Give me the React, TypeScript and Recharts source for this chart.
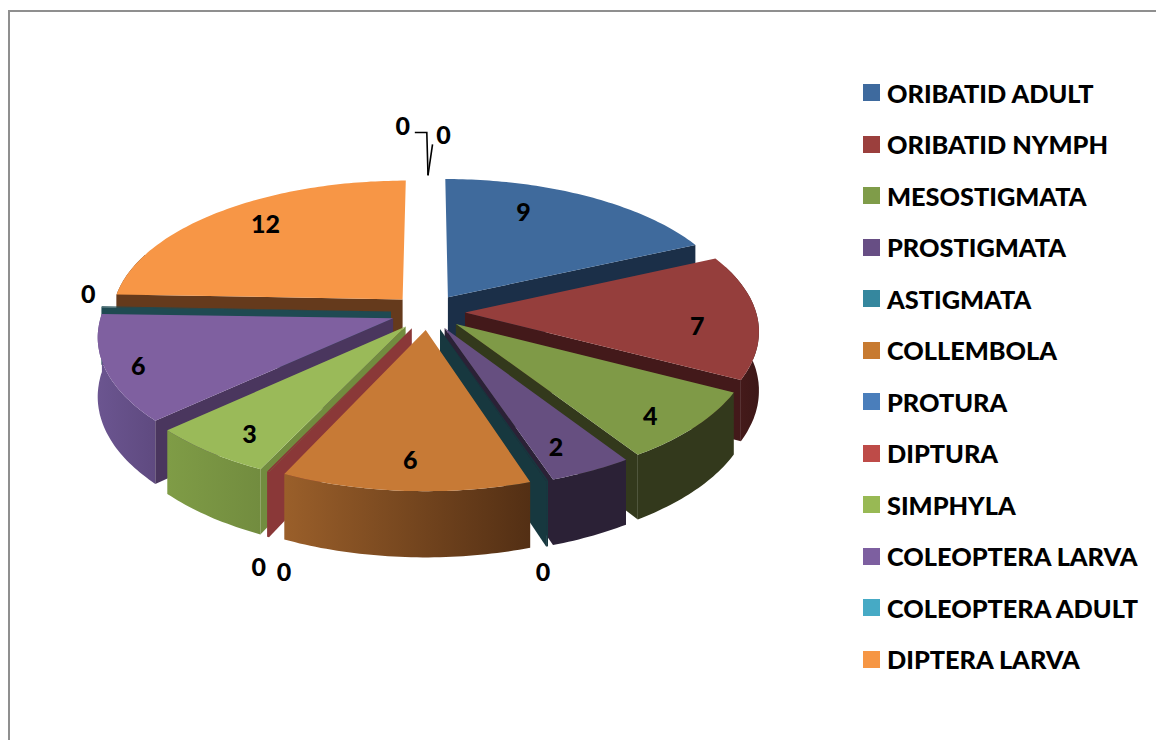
import { PieChart, Pie, Legend } from "recharts";

const categories = [
  "ORIBATID ADULT", "ORIBATID NYMPH", "MESOSTIGMATA", "PROSTIGMATA", "ASTIGMATA", "COLLEMBOLA",
  "PROTURA", "DIPTURA", "SIMPHYLA", "COLEOPTERA LARVA", "COLEOPTERA ADULT", "DIPTERA LARVA",
  "", "",
];
// some zero slices still show a thin cut face in the picture, so they get a sliver
const values = [9, 7, 4, 2, 0.05, 6, 0, 0.05, 3, 6, 0.05, 12, 0, 0];

const legendColors = [
  "#3e6a9e", "#9b3f3d", "#7f9c49", "#674e84", "#35879e", "#c77a30",
  "#4a7ebb", "#be4b48", "#98b954", "#7d5fa0", "#46aac5", "#f69644", "#fff", "#fff",
];
const topColors = [
  "#3f6a9c", "#953e3c", "#7f9a47", "#664f80", "#17383f", "#c77a36",
  "#4a7ebb", "#8a3838", "#9aba59", "#7f60a0", "#1f4a52", "#f79646", "#fff", "#fff",
];
const faceColors = [
  "#1b2f48", "#43191a", "#33391c", "#2b2136", "#17383f", "#532f14",
  "#2a4a70", "#8a3838", "#728c3f", "#4a365e", "#1f4a52", "#653a1c", "#fff", "#fff",
];
const wallFrom = [
  "#1b2f48", "#4a1c1c", "#33391c", "#2b2136", "#17383f", "#9a5f2a",
  "#2a4a70", "#8a3838", "#7f9c46", "#6b5590", "#1f4a52", "#653a1c", "#fff", "#fff",
];
const wallTo = [
  "#1b2f48", "#3d1717", "#33391c", "#2b2136", "#17383f", "#532f14",
  "#2a4a70", "#8a3838", "#728c3f", "#5f4a80", "#1f4a52", "#653a1c", "#fff", "#fff",
];

// where each number sits on the pie: clockwise angle from north, fraction of radius
const labelAngles = [24.3, 95.8, 134, 155.4, 168, 183.3, 197.7, 194.9, 215.2, 249, 276.7, 318.9, 356.3, 2.4];
const labelRadii = [0.874, 0.907, 0.965, 0.94, 1.57, 0.93, 1.585, 1.59, 0.955, 1.006, 1.18, 0.918, 1.68, 1.57];

// back to front, so nearer walls cover the ones behind
const wallOrder = [12, 13, 11, 10, 9, 8, 6, 7, 0, 1, 2, 3, 4, 5];

const CX = 428;
const CY = 312;
const RADIUS = 291;
const LABEL_RADIUS = 295;
const EXPLODE = 37;
const TILT = 0.479;
const PERSPECTIVE = 0.125;
const DEPTH = 58;

const rows = categories.map((name, i) => ({ name, value: values[i], fill: topColors[i] }));

const rad = (d: number) => (d * Math.PI) / 180;

// pie plane (u right, v toward viewer) to the screen
function project(u: number, v: number, down = 0) {
  const s = 1 + (PERSPECTIVE * v) / RADIUS;
  return [CX + u * s, CY + TILT * v * s + down * s];
}

function rimPoint(theta: number, mid: number, r: number, down = 0) {
  const u = r * Math.sin(rad(theta)) + EXPLODE * Math.sin(rad(mid));
  const v = -r * Math.cos(rad(theta)) - EXPLODE * Math.cos(rad(mid));
  return project(u, v, down);
}

function toPath(points: number[][]) {
  return "M" + points.map((p) => `${p[0].toFixed(1)},${p[1].toFixed(1)}`).join("L") + "Z";
}

function arcPoints(from: number, to: number, mid: number, down = 0) {
  const steps = Math.max(2, Math.ceil(to - from));
  const out = [];
  for (let i = 0; i <= steps; i++) {
    out.push(rimPoint(from + ((to - from) * i) / steps, mid, RADIUS, down));
  }
  return out;
}

function angles(props: any) {
  return { from: 90 - props.startAngle, to: 90 - props.endAngle, mid: 90 - props.midAngle };
}

function TopFace(props: any) {
  const { from, to, mid } = angles(props);
  if (to - from <= 0) return null;
  return <path d={toPath([rimPoint(0, mid, 0), ...arcPoints(from, to, mid)])} fill={topColors[props.index]} />;
}

function wallShape(only: number) {
  return function WallFace(props: any) {
    const i = props.index;
    if (i !== only) return null;
    const { from, to, mid } = angles(props);
    if (to - from <= 0) return null;
    const apex = rimPoint(0, mid, 0);
    const apexLow = rimPoint(0, mid, 0, DEPTH);
    const radial = (theta: number) =>
      toPath([apex, rimPoint(theta, mid, RADIUS), rimPoint(theta, mid, RADIUS, DEPTH), apexLow]);
    // only the part of the rim that faces the viewer
    const wallFromAngle = Math.max(from, 70);
    const wallToAngle = Math.min(to, 290);
    const gradId = `wall-${i}`;
    return (
      <g>
        <defs>
          <linearGradient id={gradId} x1="0" y1="0" x2="1" y2="0">
            <stop offset="0" stopColor={wallFrom[i]} />
            <stop offset="1" stopColor={wallTo[i]} />
          </linearGradient>
        </defs>
        {wallToAngle > wallFromAngle && (
          <path
            d={toPath([
              ...arcPoints(wallFromAngle, wallToAngle, mid),
              ...arcPoints(wallFromAngle, wallToAngle, mid, DEPTH).reverse(),
            ])}
            fill={`url(#${gradId})`}
          />
        )}
        {Math.sin(rad(from)) < 0 && <path d={radial(from)} fill={faceColors[i]} />}
        {Math.sin(rad(to)) > 0 && <path d={radial(to)} fill={faceColors[i]} />}
      </g>
    );
  };
}

function ValueLabel(props: any) {
  const i = props.index;
  const theta = labelAngles[i];
  const r = labelRadii[i] * LABEL_RADIUS;
  const [x, y] = project(r * Math.sin(rad(theta)), -r * Math.cos(rad(theta)));
  const tip = rimPoint(0, 0, RADIUS + 5);
  return (
    <g>
      {i === 12 && (
        <polyline points={`${x + 12},${y + 7} ${x + 24},${y + 7} ${tip[0]},${tip[1]}`} fill="none" stroke="#000" strokeWidth={1.6} />
      )}
      {i === 13 && (
        <polyline points={`${x - 11},${y + 10} ${tip[0]},${tip[1]}`} fill="none" stroke="#000" strokeWidth={1.6} />
      )}
      <text x={x} y={y} textAnchor="middle" dominantBaseline="central" fontFamily="Lato" fontWeight={900} fontSize={25} fill="#000">
        {Math.round(props.value)}
      </text>
    </g>
  );
}

function LegendBox() {
  return (
    <div style={{ fontFamily: "Lato", fontWeight: 900, fontSize: 25.3, color: "#000" }}>
      {categories.slice(0, 12).map((name, i) => (
        <div key={name} style={{ display: "flex", alignItems: "center", height: 51.5, whiteSpace: "nowrap" }}>
          <span style={{ width: 17, height: 17, background: legendColors[i], marginRight: 7 }} />
          {name}
        </div>
      ))}
    </div>
  );
}

export default function App() {
  return (
    <div style={{ position: "absolute", left: 0, top: 0, width: 1156, height: 740, overflow: "hidden", background: "#fff" }}>
      <div style={{ position: "absolute", left: 8, top: 10, right: 0, bottom: 0, borderLeft: "2px solid #8f8f8f", borderTop: "2px solid #8f8f8f" }} />
      <PieChart width={1156} height={740} style={{ position: "absolute", left: 0, top: 0 }}>
        {wallOrder.map((i) => (
          <Pie
            key={i}
            data={rows}
            dataKey="value"
            nameKey="name"
            cx={CX}
            cy={CY}
            outerRadius={RADIUS}
            startAngle={90}
            endAngle={-270}
            stroke="none"
            legendType="none"
            label={false}
            shape={wallShape(i)}
            isAnimationActive={false}
          />
        ))}
        <Pie
          data={rows}
          dataKey="value"
          nameKey="name"
          cx={CX}
          cy={CY}
          outerRadius={RADIUS}
          startAngle={90}
          endAngle={-270}
          stroke="none"
          shape={TopFace}
          label={ValueLabel}
          labelLine={false}
          isAnimationActive={false}
        />
        <Legend content={LegendBox} wrapperStyle={{ left: 863, top: 67, width: 290 }} />
      </PieChart>
    </div>
  );
}
